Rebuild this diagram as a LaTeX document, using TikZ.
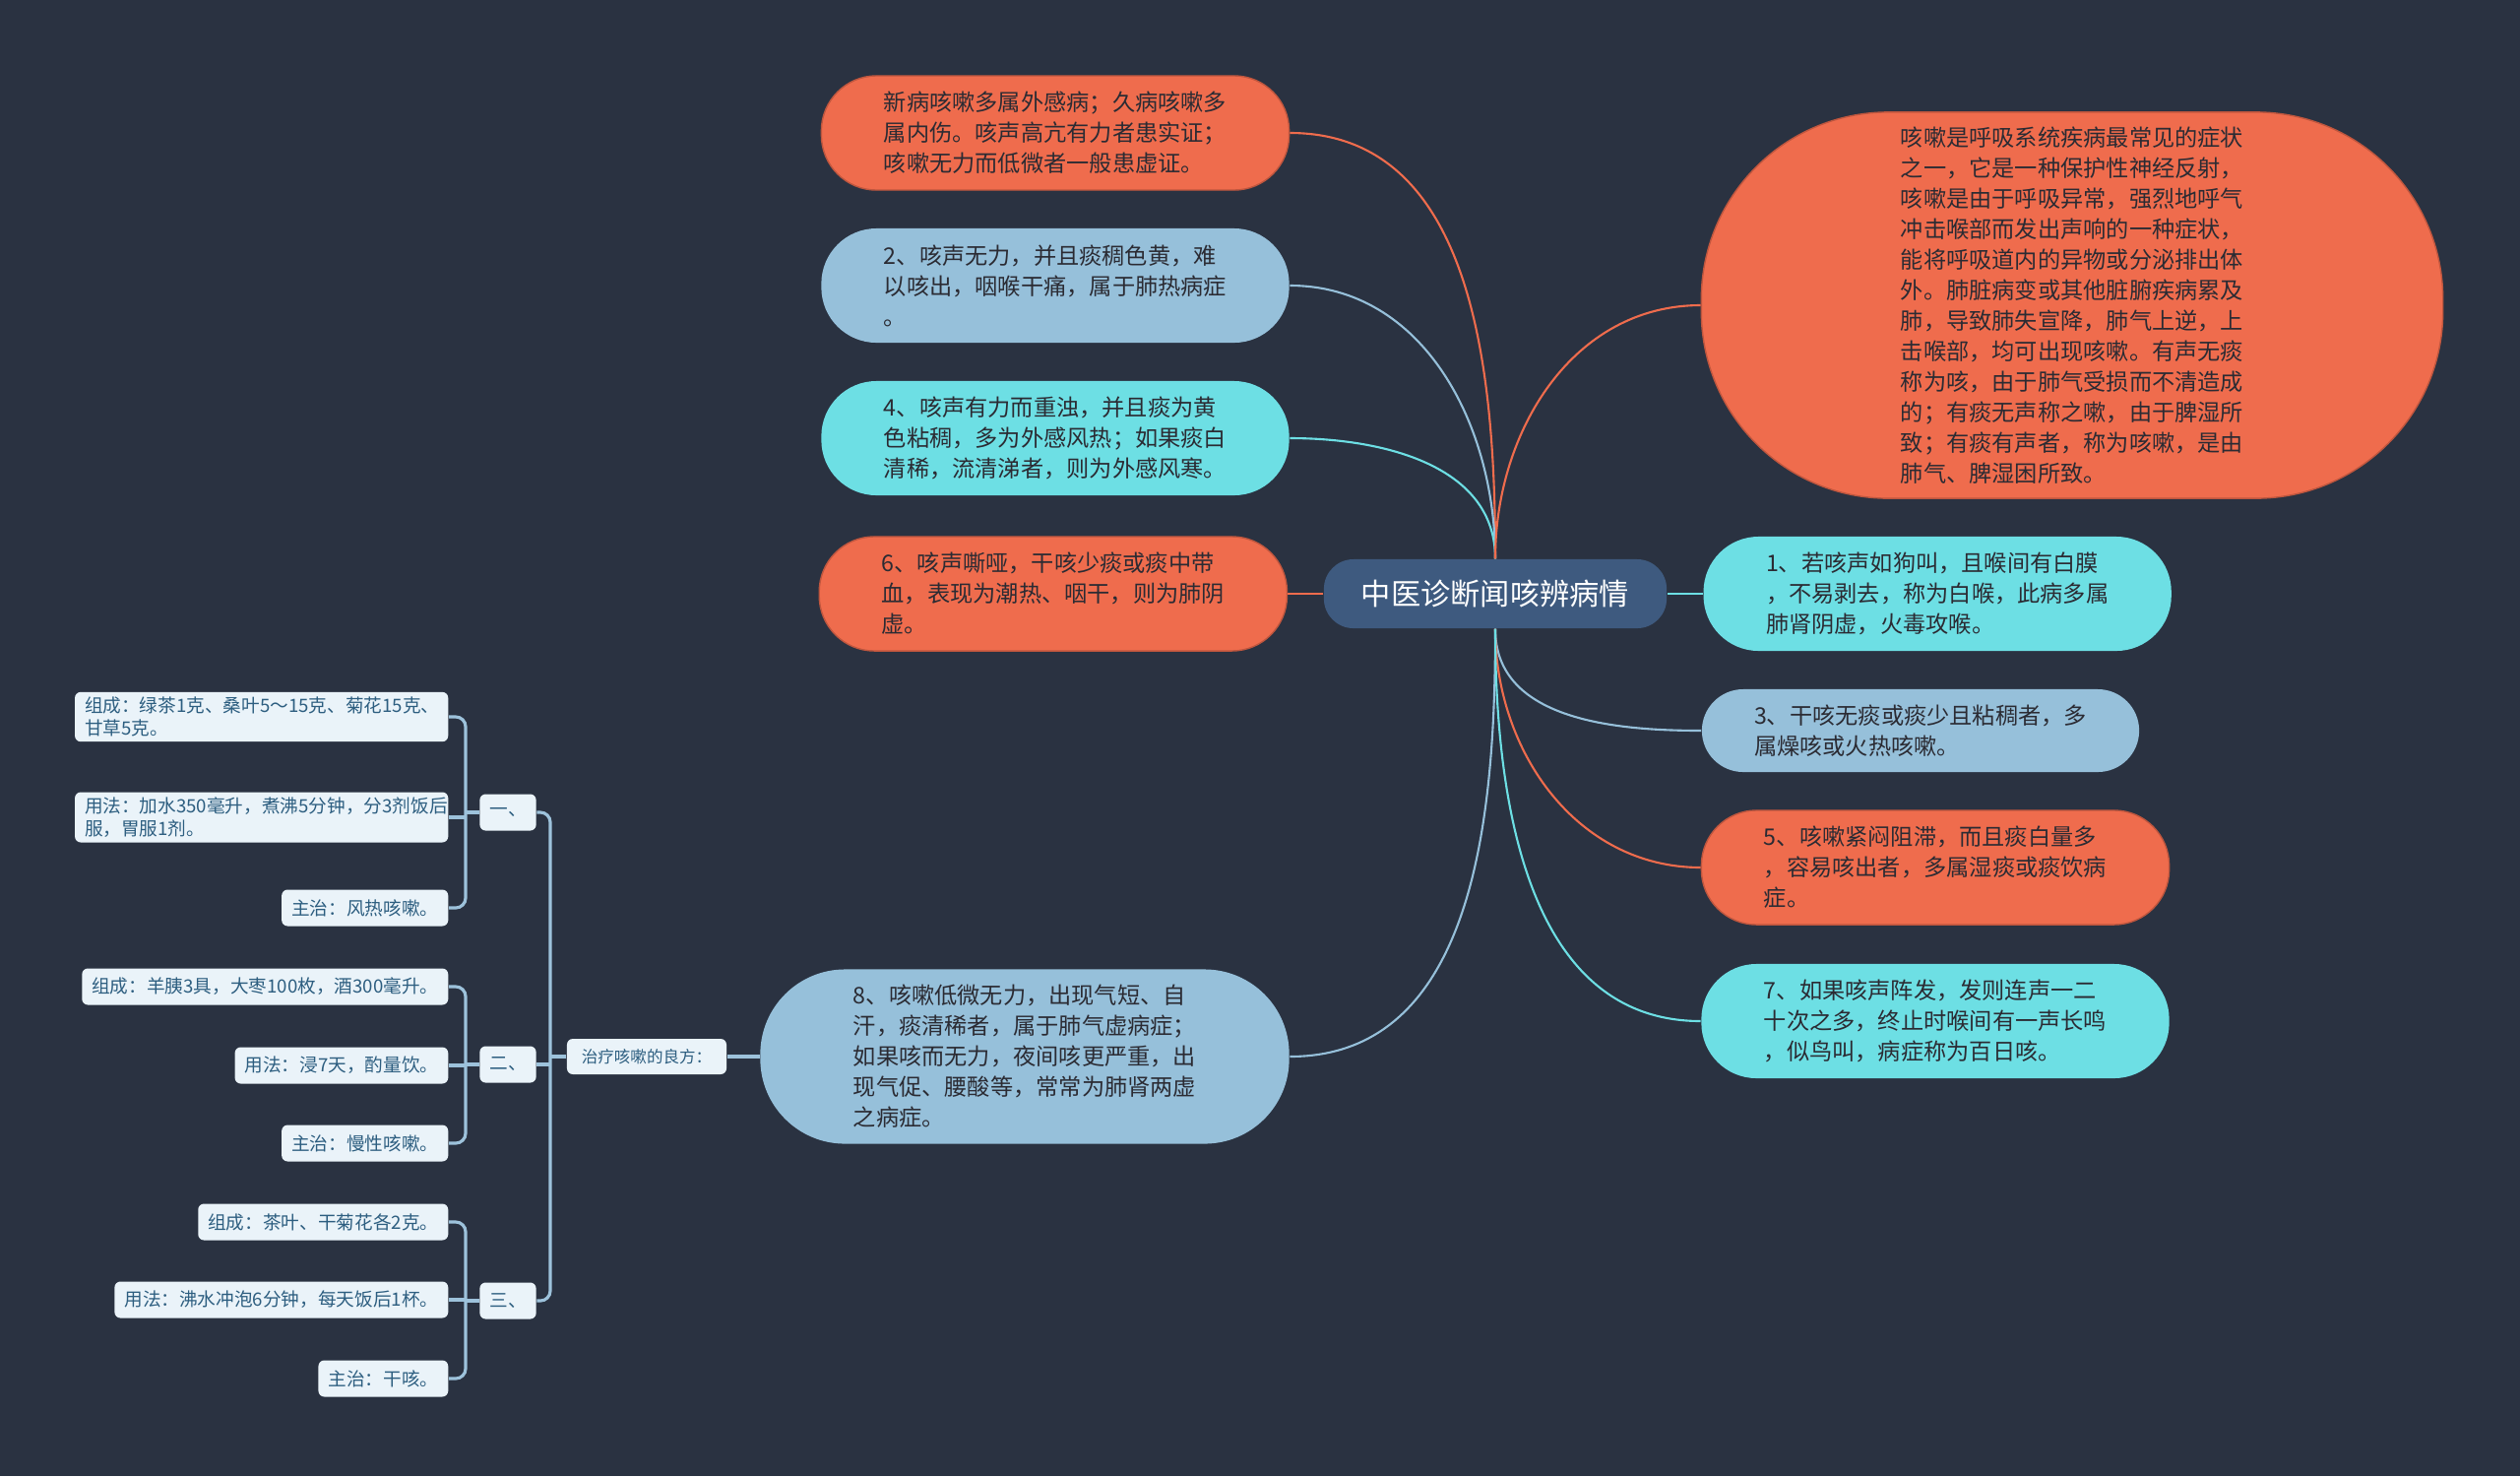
\documentclass[tikz,border=0pt]{standalone}
\usepackage{fontspec}
\setmainfont{Noto Sans CJK SC}
\usetikzlibrary{positioning}

\definecolor{bg}{HTML}{2A3241}
\definecolor{orng}{HTML}{EF6C4D}
\definecolor{lblue}{HTML}{96C0DA}
\definecolor{cyn}{HTML}{6DDFE4}
\definecolor{rootc}{HTML}{3E5A7F}
\definecolor{leaf}{HTML}{EAF3F9}
\definecolor{leaftxt}{HTML}{2D5E80}
\definecolor{darktxt}{HTML}{2B2B33}
\definecolor{treec}{HTML}{9DC2DB}

\begin{document}
\begin{tikzpicture}[
    x=0.01cm, y=0.01cm,
    bubble/.style={align=left, inner sep=0pt, minimum width=4.75cm, minimum height=1.16cm, rounded corners=0.56cm, text=darktxt, font=\fontsize{6.6pt}{8.8pt}\selectfont},
    obub/.style={bubble, fill=orng, draw=orng!80!black, line width=0.4pt},
    bbub/.style={bubble, fill=lblue},
    cbub/.style={bubble, fill=cyn},
    rootbox/.style={fill=rootc, text=white, rounded corners=0.3cm, minimum width=3.48cm, minimum height=0.7cm, inner sep=0pt, font=\fontsize{8.6pt}{10pt}\selectfont},
    leafbox/.style={fill=leaf, text=leaftxt, rounded corners=0.06cm, align=left, inner xsep=0.1cm, inner ysep=0.05cm, minimum height=0.37cm, font=\fontsize{5.3pt}{6.6pt}\selectfont},
    link/.style={line width=0.6pt},
    tree/.style={draw=treec, line width=0.9pt, rounded corners=0.1cm}
  ]
    \fill[bg] (0,0) rectangle (2560,-1499);

    % root
    \node[rootbox] (root) at (1519,-603) {中医诊断闻咳辨病情};

    % left side
    \node[obub] (xinbing) at (1072,-135) {新病咳嗽多属外感病；久病咳嗽多\\属内伤。咳声高亢有力者患实证；\\咳嗽无力而低微者一般患虚证。};
    \node[bbub] (k2) at (1072,-290) {2、咳声无力，并且痰稠色黄，难\\以咳出，咽喉干痛，属于肺热病症\\。};
    \node[cbub] (k4) at (1072,-445) {4、咳声有力而重浊，并且痰为黄\\色粘稠，多为外感风热；如果痰白\\清稀，流清涕者，则为外感风寒。};
    \node[obub, left=0.36cm of root] (k6) {6、咳声嘶哑，干咳少痰或痰中带\\血，表现为潮热、咽干，则为肺阴\\虚。};
    \node[bbub, minimum width=5.37cm, minimum height=1.77cm, rounded corners=0.86cm] (k8) at (1041,-1073) {8、咳嗽低微无力，出现气短、自\\汗，痰清稀者，属于肺气虚病症；\\如果咳而无力，夜间咳更严重，出\\现气促、腰酸等，常常为肺肾两虚\\之病症。};

    % right side
    \node[obub, minimum width=7.53cm, minimum height=3.92cm, rounded corners=1.9cm] (intro) at (2105,-310) {咳嗽是呼吸系统疾病最常见的症状\\之一，它是一种保护性神经反射，\\咳嗽是由于呼吸异常，强烈地呼气\\冲击喉部而发出声响的一种症状，\\能将呼吸道内的异物或分泌排出体\\外。肺脏病变或其他脏腑疾病累及\\肺，导致肺失宣降，肺气上逆，上\\击喉部，均可出现咳嗽。有声无痰\\称为咳，由于肺气受损而不清造成\\的；有痰无声称之嗽，由于脾湿所\\致；有痰有声者，称为咳嗽，是由\\肺气、脾湿困所致。};
    \node[cbub, right=0.36cm of root] (k1) {1、若咳声如狗叫，且喉间有白膜\\，不易剥去，称为白喉，此病多属\\肺肾阴虚，火毒攻喉。};
    \node[bbub, minimum width=4.44cm, minimum height=0.84cm, rounded corners=0.42cm] (k3) at (1951,-742) {3、干咳无痰或痰少且粘稠者，多\\属燥咳或火热咳嗽。};
    \node[obub] (k5) at (1966,-881) {5、咳嗽紧闷阻滞，而且痰白量多\\，容易咳出者，多属湿痰或痰饮病\\症。};
    \node[cbub] (k7) at (1966,-1037) {7、如果咳声阵发，发则连声一二\\十次之多，终止时喉间有一声长鸣\\，似鸟叫，病症称为百日咳。};

    % recipes
    \node[leafbox, minimum width=1.62cm, minimum height=0.36cm, font=\fontsize{4.7pt}{6pt}\selectfont] (fang) at (657,-1073) {治疗咳嗽的良方：};
    \node[leafbox, minimum width=0.54cm] (yi) at (516,-825) {一、};
    \node[leafbox, minimum width=0.54cm] (er) at (516,-1081) {二、};
    \node[leafbox, minimum width=0.54cm] (san) at (516,-1321) {三、};

    \node[leafbox, anchor=east, text width=3.59cm] (yi1) at (456,-728) {组成：绿茶1克、桑叶5～15克、菊花15克、\\甘草5克。};
    \node[leafbox, anchor=east, text width=3.59cm] (yi2) at (456,-830) {用法：加水350毫升，煮沸5分钟，分3剂饭后\\服，胃服1剂。};
    \node[leafbox, anchor=east] (yi3) at (456,-922) {主治：风热咳嗽。};
    \node[leafbox, anchor=east] (er1) at (456,-1002) {组成：羊胰3具，大枣100枚，酒300毫升。};
    \node[leafbox, anchor=east] (er2) at (456,-1082) {用法：浸7天，酌量饮。};
    \node[leafbox, anchor=east] (er3) at (456,-1161) {主治：慢性咳嗽。};
    \node[leafbox, anchor=east] (san1) at (456,-1241) {组成：茶叶、干菊花各2克。};
    \node[leafbox, anchor=east] (san2) at (456,-1320) {用法：沸水冲泡6分钟，每天饭后1杯。};
    \node[leafbox, anchor=east] (san3) at (456,-1400) {主治：干咳。};

    \coordinate (j1) at (473,-825);
    \coordinate (j2) at (473,-1081);
    \coordinate (j3) at (473,-1321);
    \coordinate (jt) at (559,-1073);

    % links from root
    \draw[link, orng] (root.north) to[out=90,in=0] (xinbing.east);
    \draw[link, lblue] (root.north) to[out=90,in=0] (k2.east);
    \draw[link, cyn] (root.north) to[out=90,in=0] (k4.east);
    \draw[link, orng] (root.west) -- (k6.east);
    \draw[link, lblue] (root.south) to[out=-90,in=0] (k8.east);
    \draw[link, orng] (root.north) to[out=90,in=180] (intro.west);
    \draw[link, cyn] (root.east) -- (k1.west);
    \draw[link, lblue] (root.south) to[out=-90,in=180] (k3.west);
    \draw[link, orng] (root.south) to[out=-90,in=180] (k5.west);
    \draw[link, cyn] (root.south) to[out=-90,in=180] (k7.west);

    % recipe tree
    \draw[tree] (k8.west) -- (fang.east);
    \draw[tree] (fang.west) -- (jt);
    \draw[tree] (yi.east) -| (jt) |- (san.east);
    \draw[tree] (er.east) -- (er.east -| jt);

    \draw[tree] (yi1.east) -| (j1) |- (yi3.east);
    \draw[tree] (yi2.east) -- (yi2.east -| j1);
    \draw[tree] (j1) -- (yi.west);

    \draw[tree] (er1.east) -| (j2) |- (er3.east);
    \draw[tree] (er2.east) -- (er2.east -| j2);
    \draw[tree] (j2) -- (er.west);

    \draw[tree] (san1.east) -| (j3) |- (san3.east);
    \draw[tree] (san2.east) -- (san2.east -| j3);
    \draw[tree] (j3) -- (san.west);
  \end{tikzpicture}
\end{document}
